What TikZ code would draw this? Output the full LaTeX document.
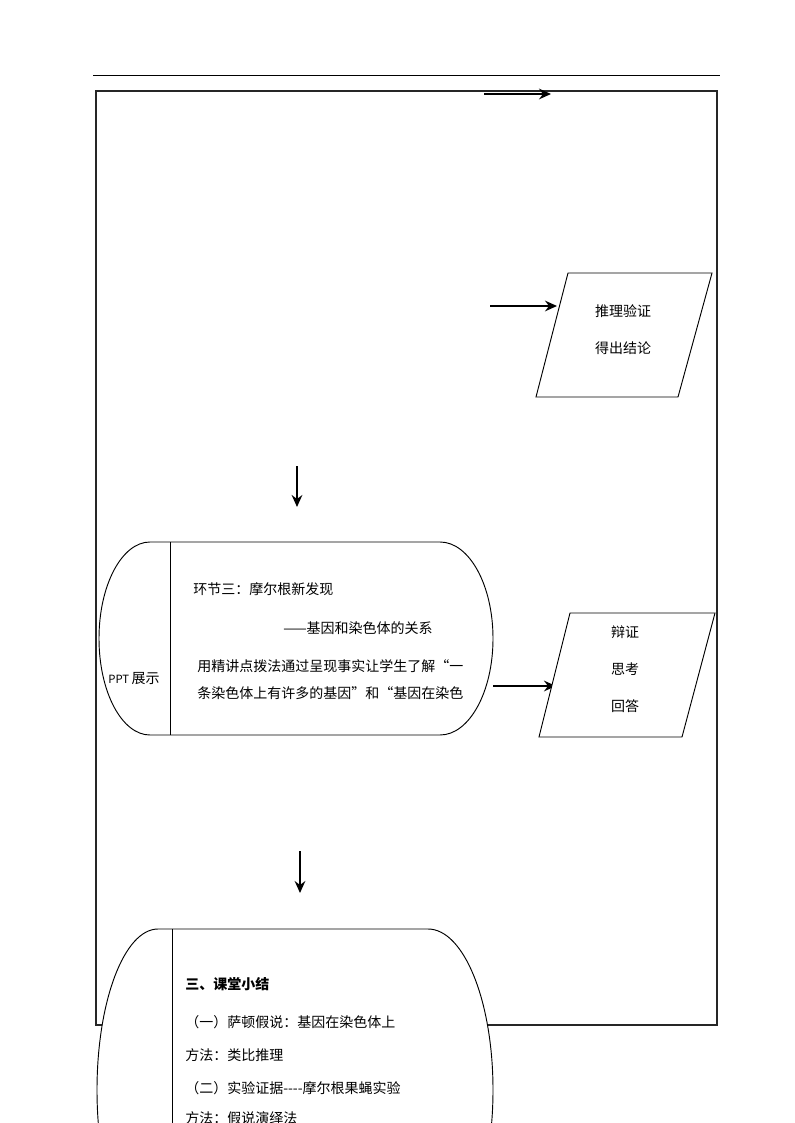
\documentclass[tikz,border=0pt]{standalone}
\usepackage{fontspec}
\newfontfamily\cjk{Noto Sans CJK SC}
\usetikzlibrary{arrows.meta}
\begin{document}
\begin{tikzpicture}[x=0.75pt,y=-0.75pt,
  txt/.style={font=\cjk\fontsize{10.5pt}{12pt}\selectfont, inner sep=0pt},
  ltxt/.style={txt, anchor=west},
  outline/.style={draw=black, line width=0.7pt, fill=white},
  bigarrow/.style={line width=2.2pt, -{Stealth[length=9pt,width=8pt,inset=3pt]}},
  framebox/.style={draw=black!85, line width=1.5pt}]
\useasboundingbox (0,0) rectangle (794,1123);
\clip (0,0) rectangle (794,1123);
% header rule
\draw[line width=0.6pt] (93,75) -- (720,75);
% frame
\draw[framebox] (96,91) rectangle (717,1025);
% top arrow
\coordinate (a1s) at (484,94); \coordinate (a1e) at (551,94);
\draw[bigarrow] (a1s) -- (a1e);
% parallelogram 1
\coordinate (p1a) at (568,273); \coordinate (p1b) at (712,273);
\coordinate (p1c) at (678,397); \coordinate (p1d) at (536,397);
\draw[outline] (p1a) -- (p1b) -- (p1c) -- (p1d) -- cycle;
\node[txt] (p1t1) at (623,311) {推理验证};
\node[txt] (p1t2) at (623,348) {得出结论};
\coordinate (a2s) at (490,306); \coordinate (a2e) at (557,306);
\draw[bigarrow] (a2s) -- (a2e);
% down arrow 1
\coordinate (d1s) at (297,466); \coordinate (d1e) at (297,507);
\draw[bigarrow] (d1s) -- (d1e);
% rounded shape 2
\draw[outline] (150,542) -- (440,542)
  .. controls (469.3,542) and (493,585.2) .. (493,638.5)
  .. controls (493,691.8) and (469.3,735) .. (440,735)
  -- (150,735)
  .. controls (121.8,735) and (99,691.8) .. (99,638.5)
  .. controls (99,585.2) and (121.8,542) .. (150,542) -- cycle;
\coordinate (s2top) at (170,542); \coordinate (s2bot) at (170,735);
\draw[line width=0.7pt] (s2top) -- (s2bot);
\node[txt] (ppt) at (134,679) {{\fontsize{8.5pt}{10pt}\selectfont PPT}\,展示};
\node[ltxt] (s2t1) at (193,589) {环节三：摩尔根新发现};
\node[ltxt] (s2t2) at (283,628) {——基因和染色体的关系};
\node[ltxt] (s2t3) at (197,666) {用精讲点拨法通过呈现事实让学生了解“一};
\node[ltxt] (s2t4) at (197,693) {条染色体上有许多的基因”和“基因在染色};
% arrow to parallelogram 2
\coordinate (a3s) at (493,686); \coordinate (a3e) at (556,686);
\draw[bigarrow] (a3s) -- (a3e);
% parallelogram 2
\coordinate (p2a) at (570,613); \coordinate (p2b) at (715,613);
\coordinate (p2c) at (682,737); \coordinate (p2d) at (539,737);
\draw[outline] (p2a) -- (p2b) -- (p2c) -- (p2d) -- cycle;
\node[txt] (p2t1) at (625,632) {辩证};
\node[txt] (p2t2) at (625,669) {思考};
\node[txt] (p2t3) at (625,706) {回答};
% down arrow 2
\coordinate (d2s) at (300,851); \coordinate (d2e) at (300,893);
\draw[bigarrow] (d2s) -- (d2e);
% rounded shape 3 (runs off the page)
\draw[outline] (158,929) -- (428,929)
  .. controls (463.9,929) and (493,1001.1) .. (493,1090)
  .. controls (493,1178.9) and (463.9,1251) .. (428,1251)
  -- (158,1251)
  .. controls (124.3,1251) and (97,1178.9) .. (97,1090)
  .. controls (97,1001.1) and (124.3,929) .. (158,929) -- cycle;
\coordinate (s3top) at (172,929); \coordinate (s3bot) at (172,1251);
\draw[line width=0.7pt] (s3top) -- (s3bot);
\node[ltxt] (s3t1) at (185,984) {\bfseries 三、课堂小结};
\node[ltxt] (s3t2) at (185,1022) {（一）萨顿假说：基因在染色体上};
\node[ltxt] (s3t3) at (185,1055) {方法：类比推理};
\node[ltxt] (s3t4) at (185,1088) {（二）实验证据----摩尔根果蝇实验};
\node[ltxt] (s3t5) at (185,1118) {方法：假说演绎法};
\end{tikzpicture}
\end{document}
